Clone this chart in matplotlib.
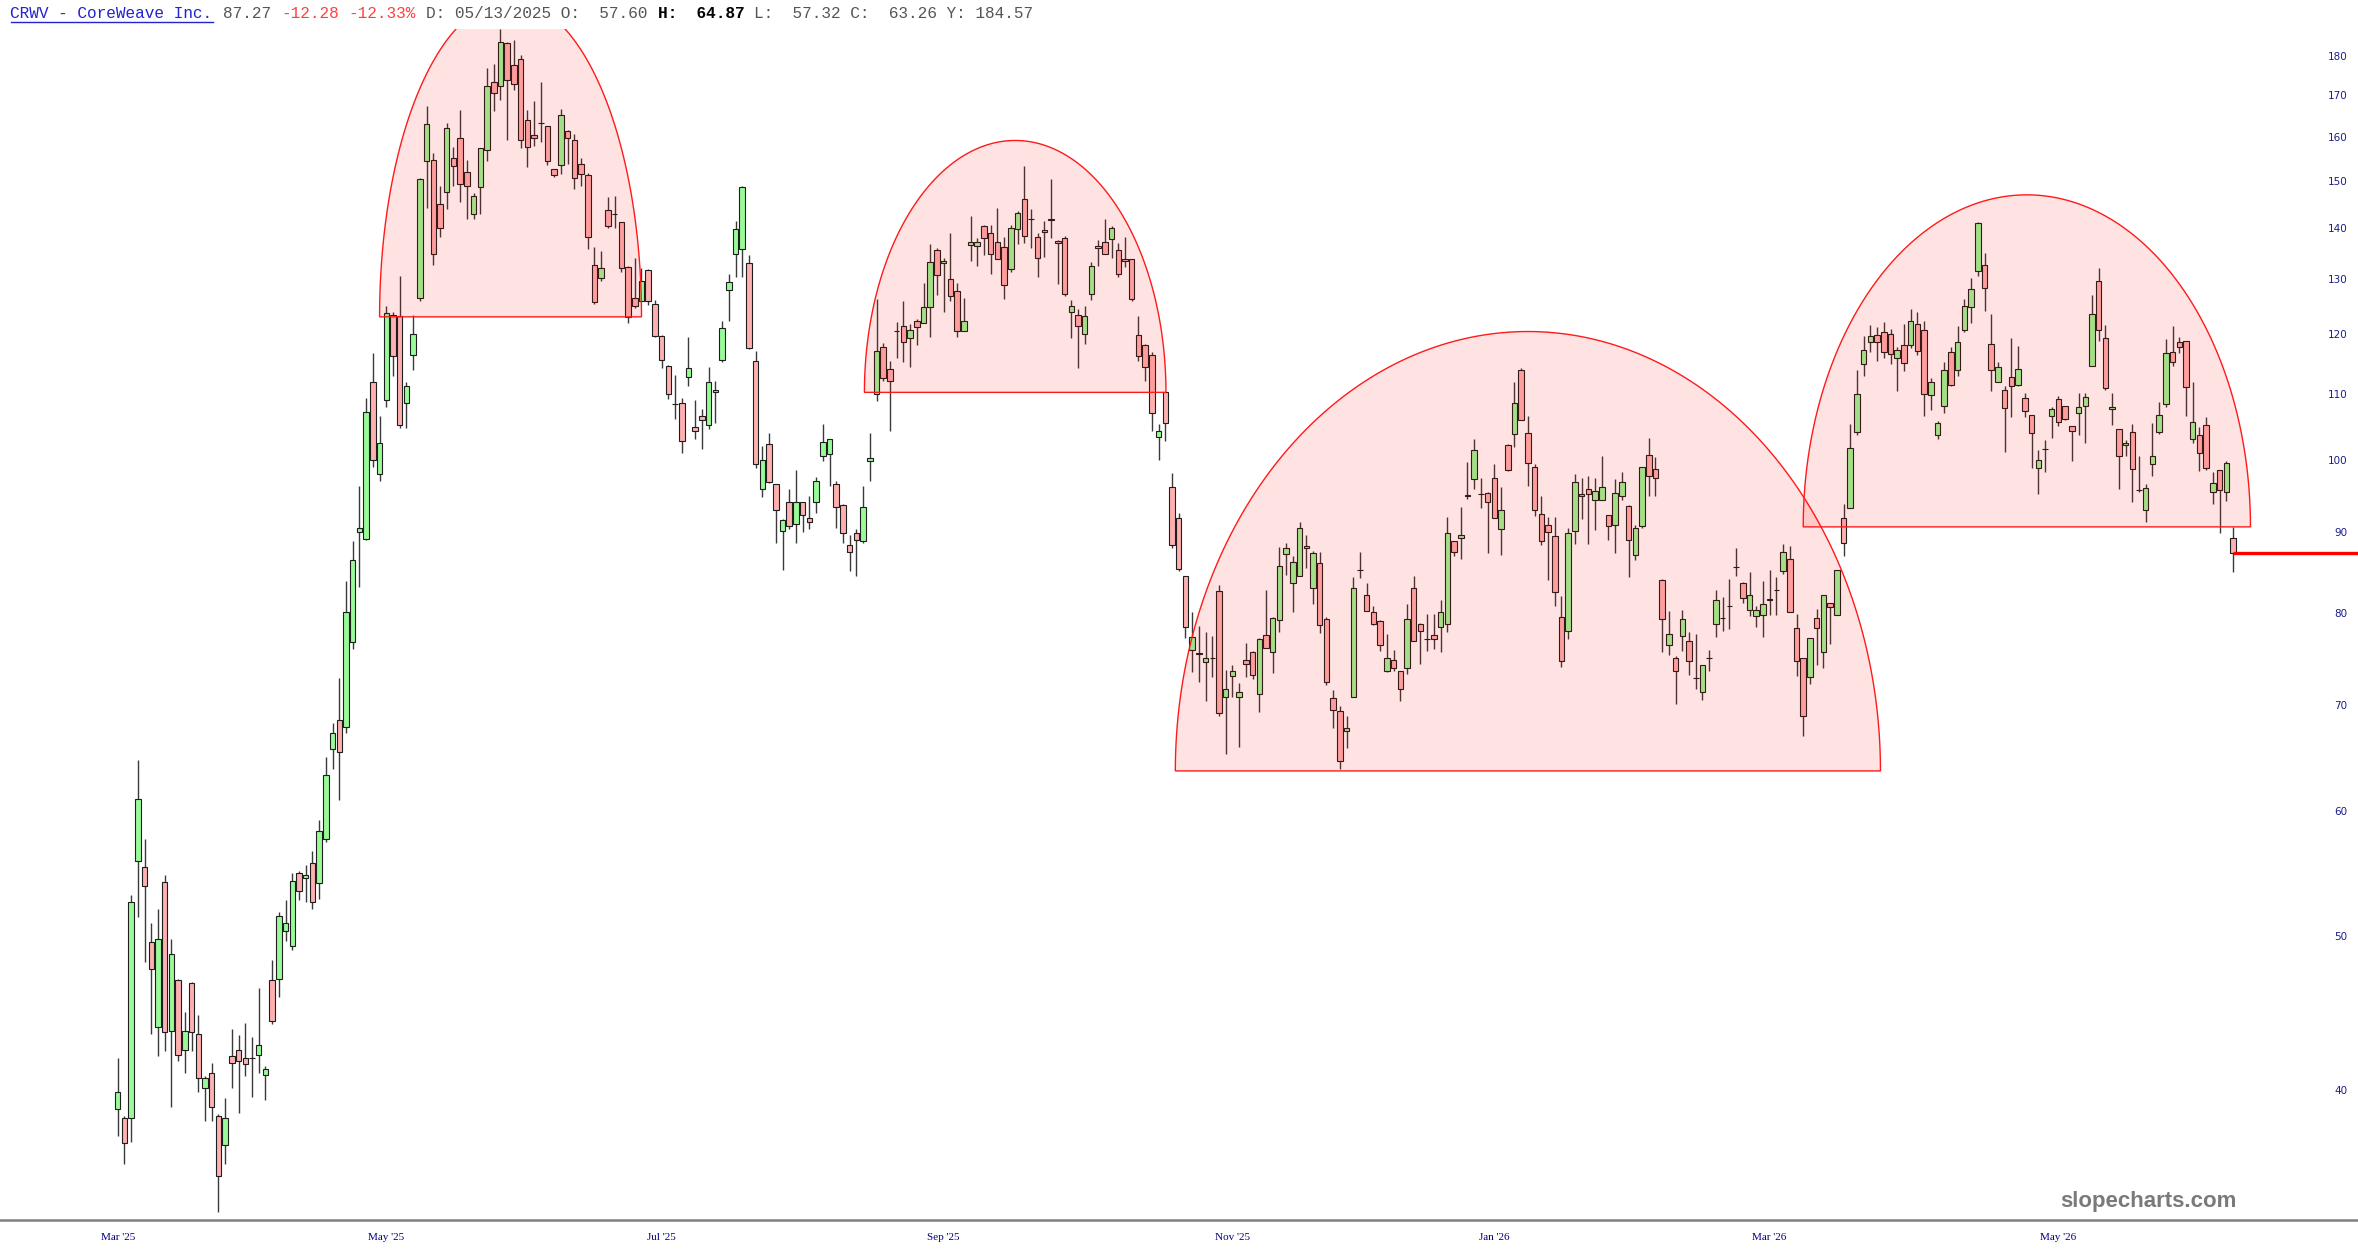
import numpy as np
import matplotlib
matplotlib.use("Agg")
import matplotlib.pyplot as plt
from matplotlib.ticker import NullLocator
from matplotlib.lines import Line2D

# --- DATA (daily OHLC, Mar 28 2025 onward) ---
opens = [
    38.9, 38.4, 38.4, 55.8, 55.3, 49.6, 43.8, 54.1, 43.6, 46.9,
    42.4, 46.7, 43.4, 40.1, 41.0, 38.5, 36.9, 42.0, 42.4, 41.9,
    41.9, 42.1, 40.9, 46.9, 47.0, 50.4, 49.3, 54.8, 54.4, 55.6,
    54.0, 57.6, 65.7, 68.5, 67.8, 76.7, 90.0, 89.1, 112.0, 97.9,
    109.1, 123.4, 123.2, 108.6, 116.5, 126.6, 154.4, 154.7, 145.0, 147.6,
    155.2, 159.6, 151.9, 143.0, 148.6, 156.9, 173.3, 172.1, 183.4, 177.5,
    179.1, 164.0, 160.3, 163.2, 162.5, 152.6, 153.6, 161.4, 159.2, 153.8,
    151.2, 132.8, 130.2, 143.9, 142.9, 141.3, 132.4, 126.6, 125.9, 131.8,
    125.5, 119.8, 114.6, 108.4, 108.6, 112.8, 104.9, 106.6, 105.2, 110.6,
    115.6, 128.0, 134.9, 135.9, 133.1, 115.4, 95.9, 102.3, 96.5, 90.1,
    94.1, 91.1, 94.0, 91.9, 94.0, 100.6, 100.8, 96.6, 93.7, 88.4,
    89.9, 88.9, 99.8, 110.1, 117.8, 114.1, 120.6, 121.4, 119.4, 122.4,
    122.0, 124.8, 135.7, 133.1, 130.1, 127.9, 120.6, 136.6, 136.4, 140.5,
    139.1, 137.3, 136.3, 132.0, 139.9, 146.1, 142.0, 138.3, 139.6, 141.7,
    137.5, 138.0, 123.9, 123.5, 120.1, 127.2, 136.0, 137.3, 137.9, 135.6,
    133.9, 133.9, 119.9, 118.2, 116.4, 103.3, 110.3, 96.1, 91.9, 84.4,
    75.8, 75.5, 74.5, 75.0, 82.6, 70.8, 73.0, 70.8, 74.7, 75.6,
    71.1, 77.5, 75.6, 79.2, 87.2, 83.6, 84.5, 88.2, 83.0, 86.1,
    79.3, 70.7, 69.4, 67.4, 70.8, 85.2, 82.2, 80.1, 79.1, 73.5,
    74.7, 73.5, 73.9, 83.0, 78.7, 77.1, 77.5, 78.4, 78.8, 88.8,
    89.2, 94.8, 97.3, 95.2, 95.3, 97.4, 90.4, 102.2, 103.8, 113.9,
    103.9, 98.9, 92.4, 91.0, 89.5, 79.6, 77.9, 90.1, 95.2, 95.8,
    94.3, 94.3, 92.3, 91.0, 94.9, 93.5, 87.1, 90.8, 100.7, 98.6,
    84.0, 76.4, 75.0, 77.4, 76.8, 72.8, 71.3, 74.9, 78.8, 79.4,
    80.9, 85.6, 83.6, 80.4, 79.7, 79.8, 81.7, 82.8, 85.1, 86.6,
    78.3, 75.0, 72.9, 79.4, 75.6, 81.2, 79.8, 91.9, 93.2, 104.1,
    115.0, 118.7, 119.9, 120.4, 120.0, 116.0, 118.1, 118.1, 121.9, 120.7,
    109.8, 103.6, 108.2, 117.0, 114.0, 120.8, 124.8, 131.5, 132.8, 118.3,
    112.0, 110.7, 112.8, 111.5, 109.4, 106.7, 98.8, 101.6, 106.6, 109.2,
    108.2, 105.1, 107.1, 108.1, 114.6, 129.7, 119.4, 107.7, 104.6, 102.2,
    104.1, 95.7, 93.0, 99.4, 104.1, 108.4, 116.9, 118.6, 118.8, 103.1,
    103.6, 105.2, 95.4, 98.5, 95.4, 89.3,
]
highs = [
    41.9, 38.5, 53.1, 64.6, 57.6, 51.0, 52.0, 54.7, 49.8, 47.0,
    44.8, 46.8, 44.6, 40.8, 41.6, 38.6, 39.5, 43.7, 43.3, 44.1,
    43.2, 46.4, 41.4, 48.3, 51.8, 52.7, 54.8, 55.0, 55.5, 56.6,
    59.2, 64.87, 68.2, 72.8, 83.8, 88.8, 96.2, 109.4, 116.8, 106.6,
    125.0, 124.0, 130.7, 112.0, 123.5, 150.6, 167.4, 156.3, 149.0, 163.3,
    157.5, 166.4, 154.6, 147.3, 157.4, 176.7, 177.8, 187.2, 183.5, 184.1,
    180.2, 166.4, 168.5, 173.3, 162.6, 152.7, 166.5, 161.5, 160.6, 155.1,
    151.7, 136.3, 135.5, 146.6, 146.8, 141.4, 132.5, 134.1, 132.2, 131.9,
    126.2, 119.9, 114.7, 113.2, 109.4, 119.6, 109.1, 107.7, 114.5, 112.2,
    122.3, 131.0, 141.5, 148.8, 134.6, 117.2, 102.0, 103.9, 96.6, 91.7,
    95.8, 98.5, 94.1, 94.8, 97.5, 105.4, 103.1, 96.9, 93.8, 89.7,
    90.4, 96.2, 103.9, 126.3, 118.5, 115.4, 122.1, 126.0, 121.9, 122.8,
    129.4, 136.8, 136.1, 134.1, 139.1, 129.4, 126.6, 142.6, 138.0, 140.6,
    140.6, 144.2, 138.3, 140.6, 143.6, 153.2, 144.0, 139.1, 141.5, 150.4,
    137.6, 138.5, 126.2, 124.6, 125.0, 133.3, 137.6, 142.0, 140.4, 137.1,
    138.3, 134.0, 123.2, 118.3, 117.0, 105.4, 110.4, 98.1, 92.6, 84.5,
    80.1, 78.5, 77.8, 77.4, 83.4, 73.7, 74.2, 72.3, 76.6, 75.7,
    77.2, 82.8, 79.6, 88.1, 88.6, 86.9, 91.3, 89.7, 87.6, 87.5,
    79.6, 71.5, 69.9, 68.9, 84.3, 87.4, 83.6, 80.9, 79.2, 77.6,
    75.8, 73.6, 81.1, 84.5, 78.9, 79.9, 79.9, 81.5, 92.0, 88.9,
    93.3, 99.7, 103.0, 97.4, 95.4, 99.4, 96.1, 102.3, 111.9, 114.3,
    106.5, 99.4, 94.8, 92.0, 92.0, 82.0, 90.6, 98.0, 97.4, 97.6,
    97.4, 100.6, 92.3, 97.2, 98.2, 93.6, 91.0, 98.9, 103.2, 100.4,
    84.1, 80.2, 75.2, 80.4, 77.8, 77.6, 74.2, 75.8, 82.7, 81.9,
    84.1, 88.0, 83.7, 85.0, 80.8, 83.8, 85.2, 84.3, 88.5, 88.2,
    79.9, 75.0, 77.2, 80.5, 82.1, 81.2, 85.2, 93.8, 105.3, 113.9,
    119.7, 121.6, 121.3, 122.1, 121.0, 117.8, 121.9, 124.6, 123.9, 122.3,
    112.7, 105.8, 115.2, 117.8, 121.5, 126.4, 130.2, 141.4, 135.0, 123.6,
    115.2, 111.4, 119.3, 118.0, 110.2, 106.7, 101.4, 102.9, 108.0, 109.7,
    108.2, 105.1, 110.2, 110.2, 127.0, 132.1, 121.6, 110.2, 104.6, 102.9,
    105.3, 100.5, 96.6, 105.5, 108.7, 119.2, 121.5, 119.5, 118.9, 111.9,
    104.9, 106.4, 98.3, 98.5, 99.8, 90.7,
]
lows = [
    37.4, 35.9, 37.1, 51.4, 48.2, 43.4, 42.0, 42.3, 39.0, 41.7,
    41.0, 42.3, 39.9, 38.2, 38.2, 33.5, 35.9, 40.1, 38.7, 40.8,
    39.6, 41.0, 39.4, 44.0, 45.8, 49.7, 49.0, 52.7, 52.6, 52.0,
    52.8, 57.32, 63.8, 61.0, 67.2, 75.9, 83.1, 89.0, 99.0, 97.0,
    108.0, 113.0, 104.8, 104.8, 114.0, 126.0, 144.2, 132.8, 138.3, 144.0,
    149.0, 145.5, 142.0, 142.0, 143.0, 154.4, 166.0, 168.8, 159.2, 171.2,
    157.4, 153.0, 157.8, 158.7, 153.5, 150.8, 151.6, 153.8, 148.2, 148.8,
    135.9, 125.5, 129.7, 140.0, 140.0, 131.4, 122.0, 124.7, 125.8, 125.3,
    119.6, 114.2, 109.3, 106.1, 101.0, 111.4, 103.1, 101.6, 104.6, 105.5,
    115.3, 122.3, 130.4, 130.5, 117.5, 98.8, 94.7, 96.7, 88.6, 85.2,
    90.4, 88.6, 90.0, 90.4, 92.6, 99.8, 96.3, 90.6, 88.6, 85.1,
    84.4, 88.6, 97.0, 108.9, 112.1, 104.2, 116.0, 115.2, 114.4, 118.1,
    122.0, 119.6, 127.1, 124.0, 125.9, 119.6, 120.6, 133.5, 132.5, 134.7,
    131.0, 133.9, 126.4, 131.4, 136.9, 137.0, 136.0, 130.5, 134.3, 138.0,
    129.2, 126.8, 119.3, 114.3, 118.3, 126.1, 132.5, 134.9, 134.1, 130.5,
    132.3, 125.9, 115.4, 112.1, 104.2, 100.0, 102.8, 87.9, 85.1, 77.2,
    73.4, 72.4, 70.4, 72.9, 68.9, 65.2, 70.8, 65.9, 72.9, 72.7,
    69.3, 76.0, 73.3, 77.8, 84.6, 80.1, 84.5, 85.4, 81.1, 77.7,
    72.1, 67.7, 63.8, 65.8, 70.8, 84.2, 80.2, 78.6, 75.7, 73.4,
    73.5, 70.4, 73.2, 76.8, 74.3, 75.7, 75.9, 75.6, 77.8, 86.9,
    86.5, 94.4, 95.9, 93.2, 87.3, 91.9, 87.1, 98.4, 101.9, 106.0,
    96.3, 92.2, 88.4, 83.9, 80.9, 74.0, 77.1, 88.5, 91.7, 88.5,
    90.3, 94.3, 89.0, 87.3, 94.3, 84.3, 86.4, 90.6, 94.8, 94.8,
    75.6, 75.3, 70.1, 75.7, 73.1, 71.7, 70.5, 73.6, 77.3, 77.9,
    78.2, 84.4, 81.2, 79.7, 78.4, 77.3, 79.8, 79.8, 84.7, 80.1,
    73.0, 66.9, 72.2, 74.2, 73.9, 76.5, 79.8, 87.0, 93.2, 103.6,
    113.0, 117.0, 115.4, 116.0, 115.0, 110.5, 113.8, 117.6, 116.5, 106.5,
    107.5, 103.1, 107.1, 111.3, 113.0, 120.5, 122.0, 130.7, 124.2, 110.5,
    111.9, 101.2, 106.4, 111.4, 106.4, 98.8, 95.1, 98.3, 103.2, 105.0,
    105.9, 99.8, 103.7, 102.4, 114.6, 118.9, 110.6, 105.2, 95.8, 100.5,
    94.0, 95.4, 91.4, 97.6, 103.8, 108.0, 114.6, 116.8, 106.5, 102.4,
    98.4, 98.5, 93.8, 89.9, 94.2, 85.0,
]
closes = [
    39.9, 37.0, 52.6, 61.1, 53.8, 47.7, 49.8, 43.5, 48.7, 42.1,
    43.6, 43.5, 40.7, 40.7, 39.0, 35.3, 38.4, 41.6, 41.7, 41.5,
    41.9, 42.7, 41.2, 44.2, 51.5, 51.0, 54.2, 53.4, 54.7, 52.6,
    58.3, 63.26, 67.2, 65.4, 80.1, 86.4, 90.5, 107.2, 100.0, 102.5,
    123.8, 116.3, 105.2, 111.4, 120.1, 150.4, 163.0, 134.9, 140.0, 161.9,
    153.2, 149.3, 149.0, 146.8, 157.3, 172.1, 170.4, 183.6, 173.7, 172.8,
    159.3, 157.6, 159.7, 163.2, 154.4, 151.4, 165.1, 159.6, 150.7, 151.6,
    138.3, 125.7, 132.2, 140.4, 142.9, 132.2, 123.0, 125.0, 129.6, 125.9,
    119.8, 115.6, 110.1, 108.4, 102.8, 114.3, 104.2, 106.0, 111.9, 110.3,
    121.2, 129.5, 139.8, 148.7, 117.6, 99.4, 99.9, 96.8, 93.0, 91.6,
    90.8, 94.0, 92.3, 91.4, 96.9, 102.6, 103.0, 93.3, 89.9, 87.5,
    89.0, 93.4, 100.2, 117.2, 112.7, 112.1, 120.6, 118.6, 120.7, 121.3,
    124.8, 133.3, 130.9, 133.5, 126.8, 120.6, 122.4, 137.2, 137.3, 138.1,
    134.9, 133.9, 129.0, 140.1, 143.1, 138.5, 142.0, 134.1, 139.3, 141.9,
    137.0, 127.2, 125.0, 121.5, 123.2, 132.6, 136.5, 134.9, 140.1, 131.0,
    133.5, 126.4, 116.3, 114.4, 107.0, 104.2, 105.5, 88.4, 85.3, 78.4,
    77.3, 75.4, 74.9, 75.0, 69.2, 71.6, 73.5, 71.3, 74.3, 73.1,
    77.0, 76.0, 79.4, 85.7, 88.0, 86.2, 90.6, 88.0, 87.3, 78.6,
    72.4, 69.5, 64.5, 67.7, 83.0, 85.2, 80.2, 78.8, 76.4, 74.9,
    73.9, 71.6, 79.3, 76.8, 78.0, 77.1, 77.1, 80.1, 89.9, 87.5,
    89.7, 95.0, 101.4, 95.2, 94.1, 91.9, 93.0, 98.5, 108.6, 106.0,
    99.6, 92.9, 88.8, 90.0, 82.5, 74.6, 89.9, 96.8, 94.9, 95.2,
    95.6, 96.1, 90.8, 95.3, 96.8, 89.0, 90.5, 98.9, 97.7, 97.4,
    79.3, 77.6, 73.5, 79.3, 74.6, 72.8, 74.2, 74.9, 81.6, 79.4,
    80.9, 85.6, 81.8, 82.2, 80.4, 81.1, 81.6, 82.8, 87.4, 80.1,
    74.6, 68.9, 77.2, 78.3, 82.1, 80.7, 85.2, 88.6, 101.7, 110.1,
    117.3, 119.8, 118.7, 116.9, 116.7, 117.3, 115.1, 122.3, 117.1, 110.1,
    111.9, 105.5, 114.0, 111.5, 118.7, 125.1, 128.2, 141.1, 128.4, 114.0,
    114.5, 107.8, 111.3, 114.1, 107.4, 104.0, 99.9, 101.6, 107.7, 105.6,
    106.1, 104.3, 108.0, 109.5, 123.6, 120.8, 111.0, 108.0, 100.5, 102.4,
    98.6, 95.7, 96.0, 100.5, 106.7, 116.8, 115.2, 117.8, 111.2, 105.7,
    101.0, 98.8, 96.7, 95.7, 99.6, 87.27,
]

y_ticks = [40, 50, 60, 70, 80, 90, 100, 110, 120, 130, 140, 150, 160, 170, 180]
x_tick_bars = [0, 40, 81, 123, 166, 205, 246, 289]
x_tick_labels = ["Mar '25", "May '25", "Jul '25", "Sep '25", "Nov '25", "Jan '26", "Mar '26", "May '26"]

# rounded-top patterns drawn on the chart: bar span, base price, apex price
dome_start = [39.0, 111.2, 157.5, 251.0]
dome_end = [78.0, 156.1, 262.5, 317.6]
dome_base = [123.1, 110.3, 63.6, 90.7]
dome_top = [195.1, 159.1, 120.5, 147.0]

last_price = 87.27

# --- FIGURE ---
W, H, DPI = 2358, 1260, 100
fig = plt.figure(figsize=(W / DPI, H / DPI), dpi=DPI)
fig.patch.set_facecolor("white")

ax_top, ax_bot = 29, 1220  # pixel rows of the plot area
ax = fig.add_axes([0, 1 - ax_bot / H, 1, (ax_bot - ax_top) / H])
ax.set_facecolor("white")

n = len(closes)
first_px, last_px = 117.7, 2233.0
step = (last_px - first_px) / (n - 1)
ax.set_xlim(-first_px / step, (W - first_px) / step)
ax.set_yscale("log")
ax.set_ylim(33.1, 187.1)

x = np.arange(n)
o = np.array(opens)
hi = np.array(highs)
lo = np.array(lows)
c = np.array(closes)
up = c >= o
body_lo = np.minimum(o, c)
body_hi = np.maximum(o, c)

ax.vlines(x, lo, hi, color="#3a3a3a", lw=1.0, zorder=2)
ax.bar(x, body_hi - body_lo, bottom=body_lo, width=0.82,
       color=np.where(up, "#98fb98", "#ffb1b1"),
       edgecolor="#1e1e1e", linewidth=0.8, zorder=3)

# domes
th = np.linspace(0, np.pi, 300)
for s, e, b, t in zip(dome_start, dome_end, dome_base, dome_top):
    cx, a = (s + e) / 2, (e - s) / 2
    xs = cx + a * np.cos(th)
    ys = 10 ** (np.log10(b) + (np.log10(t) - np.log10(b)) * np.sin(th))
    ax.fill(xs, ys, facecolor=(1, 0, 0, 0.11), edgecolor="#ff1a1a", lw=1.0, zorder=4)

# last price line
ax.hlines(last_price, x[-1], ax.get_xlim()[1], color="#ff0000", lw=2.4, zorder=5)

# axes styling
for sp in ["top", "left", "right"]:
    ax.spines[sp].set_visible(False)
ax.spines["bottom"].set_color("#808080")
ax.spines["bottom"].set_linewidth(1.8)

ax.yaxis.tick_right()
ax.set_yticks(y_ticks)
ax.set_yticklabels([str(v) for v in y_ticks])
ax.yaxis.set_minor_locator(NullLocator())
ax.tick_params(axis="y", length=0, pad=-7.5, labelsize=7.5, labelcolor="#1c1c8c")
for lbl in ax.get_yticklabels():
    lbl.set_horizontalalignment("right")

ax.set_xticks(x_tick_bars)
ax.set_xticklabels(x_tick_labels, family="Liberation Serif")
ax.xaxis.set_minor_locator(NullLocator())
ax.tick_params(axis="x", length=0, pad=9, labelsize=8, labelcolor="#000080")

# header line (monospace, placed by character column)
cw, hx, hy = 9.66, 10.5, 13
header = [
    ("CRWV - CoreWeave Inc.", 0, "#2323cf", "normal"),
    ("87.27", 22, "#555555", "normal"),
    ("-12.28", 28, "#ff4040", "normal"),
    ("-12.33%", 35, "#ff4040", "normal"),
    ("D: 05/13/2025 O:  57.60", 43, "#555555", "normal"),
    ("H:  64.87", 67, "#000000", "bold"),
    ("L:  57.32 C:  63.26 Y: 184.57", 77, "#555555", "normal"),
]
for txt, col, color, weight in header:
    fig.text((hx + col * cw) / W, 1 - hy / H, txt, family="Liberation Mono",
             fontsize=11.6, color=color, weight=weight, ha="left", va="center")
fig.add_artist(Line2D([hx / W, (hx + 21 * cw) / W], [1 - 21.5 / H, 1 - 21.5 / H],
                      color="#2323cf", lw=1.0))

# watermark
fig.text(2148 / W, 1 - 1202 / H, "slopecharts.com", family="Liberation Sans", weight="bold",
         fontsize=16, color="#7a7a7a", ha="center", va="center")

fig.savefig("out.png", dpi=DPI, facecolor="white")
